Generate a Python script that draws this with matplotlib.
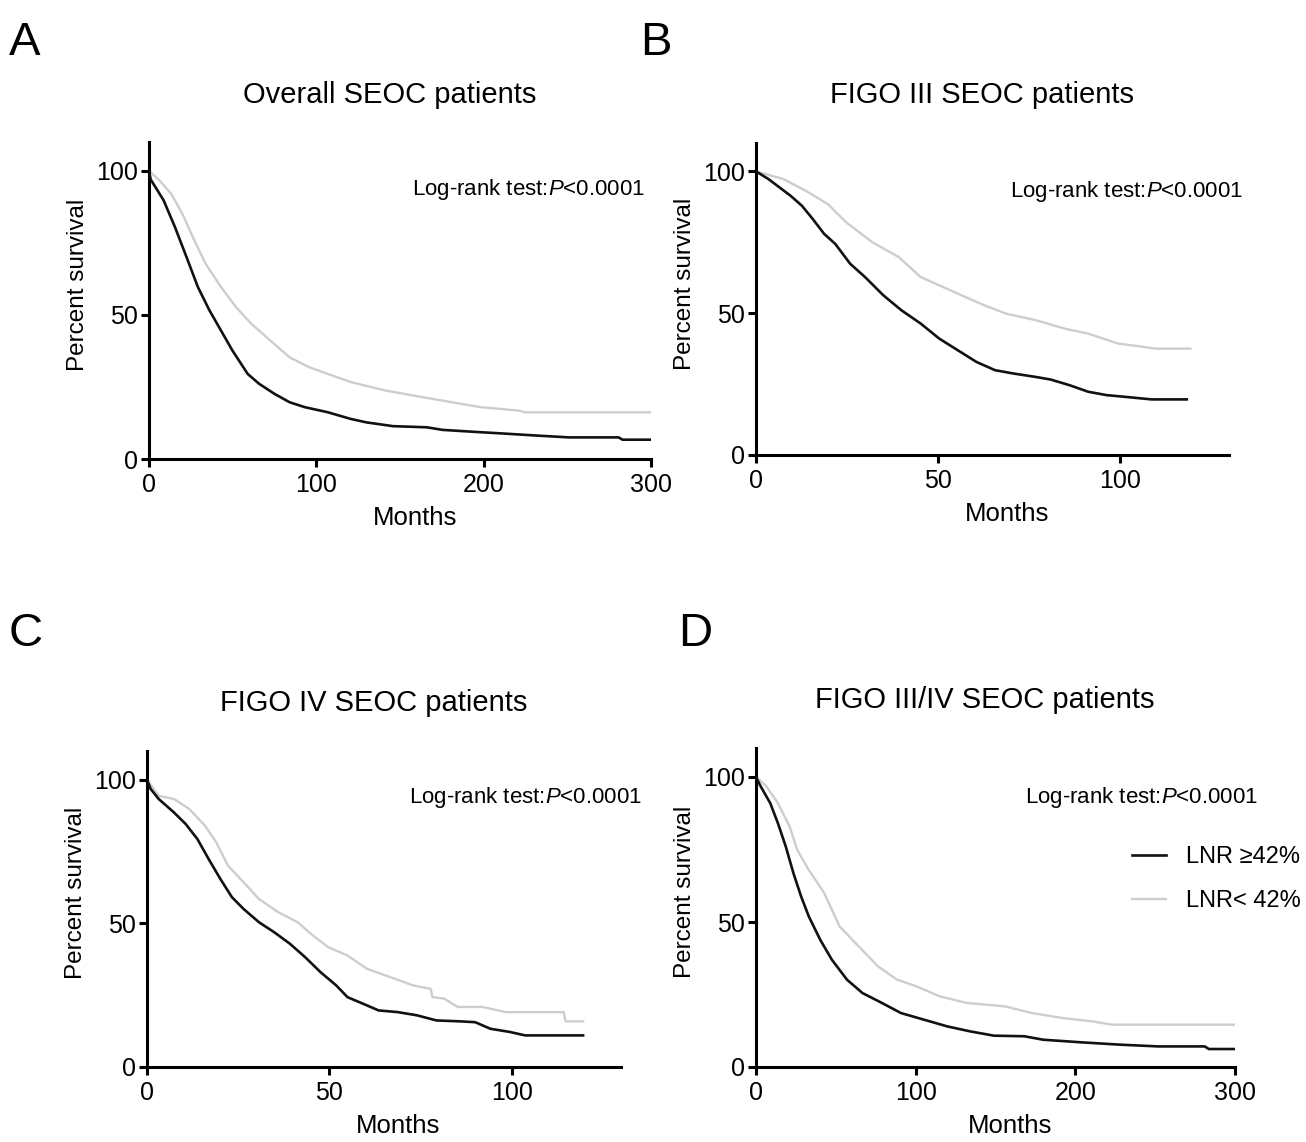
import matplotlib
matplotlib.use("Agg")
import matplotlib.pyplot as plt

plt.rcParams['font.family'] = ['Liberation Sans', 'DejaVu Sans']
plt.rcParams['mathtext.fontset'] = 'custom'
plt.rcParams['mathtext.rm'] = 'Liberation Sans'
plt.rcParams['mathtext.it'] = 'Liberation Sans:italic'

W, H = 1306, 1142

# ---- data (months, percent survival) ----
a_hi_m = [0, 1, 8.7, 15.5, 22.4, 29.2, 36.1, 43, 49.8, 59, 65.8, 75, 84, 93, 107, 120.6,
          130, 145.8, 166, 175.5, 198, 210, 232.6, 251, 280.6, 283, 300]
a_hi_s = [100, 97, 89.8, 80.5, 70.1, 59.7, 51.6, 44.6, 37.7, 29.5, 26.1, 22.6, 19.7, 18, 16.2, 13.9,
          12.7, 11.4, 11, 10.1, 9.3, 8.9, 8.1, 7.5, 7.5, 6.7, 6.7]
a_lo_m = [0, 6.4, 13.3, 20, 27, 33.8, 43, 52, 61, 72.7, 84, 95.5, 107, 120.6, 141, 164,
          187, 198, 221, 224.6, 300]
a_lo_s = [100, 96.6, 92, 85, 76, 67.8, 59.7, 52.7, 47, 41, 35.3, 31.9, 29.5, 26.7, 23.8, 21.4,
          19.1, 18, 16.8, 16.2, 16.2]

b_hi_m = [0, 3.4, 6.4, 9.5, 12.6, 15.6, 18.7, 21.8, 25.9, 30, 35, 40, 45.3, 50.4, 55.5, 60.6,
          65.7, 70.9, 77, 81, 86.2, 91.3, 96.4, 101.5, 108.7, 118.4]
b_hi_s = [100, 97.3, 94.4, 91.4, 87.9, 83.2, 78, 74.4, 67.4, 62.7, 56.3, 51, 46.3, 41, 36.9, 32.8,
          29.9, 28.7, 27.5, 26.6, 24.6, 22.3, 21.1, 20.5, 19.6, 19.6]
b_lo_m = [0, 7.5, 13.6, 19.7, 24.8, 32, 39.2, 45.3, 50.4, 56.5, 62.7, 68.8, 77, 85, 91.3,
          99.5, 106.6, 109.7, 119.4]
b_lo_s = [100, 97.3, 93.2, 88.5, 82, 75, 69.8, 62.7, 59.8, 56.3, 52.8, 49.8, 47.5, 44.5, 42.8,
          39.3, 38.1, 37.5, 37.5]

c_hi_m = [0, 1, 3.2, 7.4, 10.6, 13.8, 16.9, 20.1, 23.3, 26.5, 30.7, 34.9, 39.2, 43.4, 47.6, 51.9,
          55, 59.3, 63.5, 68.8, 74, 79.4, 85.7, 90, 94.2, 99.5, 103.7, 119.6]
c_hi_s = [100, 96.8, 93.3, 88.6, 84.6, 79.4, 72.4, 65.5, 59.1, 55, 50.4, 46.9, 42.9, 38.2, 33, 28.4,
          24.3, 22, 19.7, 19.1, 18, 16.2, 15.9, 15.6, 13.3, 12.2, 11, 11]
c_lo_m = [0, 3.2, 7.4, 11.6, 15.9, 19, 22.2, 26.5, 30.7, 36, 41.3, 45.5, 49.7, 55, 60.3, 66.7,
          73, 77.8, 78.3, 81.5, 85.2, 92, 98.4, 114.3, 114.8, 119.6]
c_lo_s = [100, 94.4, 93.3, 89.8, 84, 78.2, 70.1, 64.3, 58.5, 53.9, 50.4, 45.8, 41.7, 38.8, 34.2, 31.3,
          28.4, 27.2, 24.3, 23.8, 20.9, 20.9, 19.1, 19.1, 15.9, 15.9]

d_hi_m = [0, 2.9, 8.9, 13.7, 18.6, 23.4, 28.2, 33, 40.2, 47.5, 57, 66.7, 78.8, 90.8, 105.3, 119.8,
          134, 149, 168, 180, 204, 228, 252, 281, 283.6, 300]
d_hi_s = [100, 96.8, 91, 84.1, 76.1, 66.9, 58.9, 52, 43.9, 37, 30.1, 25.5, 22.1, 18.6, 16.3, 14,
          12.3, 10.8, 10.6, 9.4, 8.5, 7.7, 7.1, 7.1, 6.2, 6.2]
d_lo_m = [0, 6.5, 13.7, 21, 25.8, 33, 42.7, 52.3, 64.3, 76.4, 88.4, 100.5, 115, 131.8, 156,
          172.8, 192, 211, 223, 300]
d_lo_s = [100, 96.8, 91, 83, 74.9, 68, 60, 48.5, 41.6, 34.7, 30.1, 27.8, 24.4, 22.1, 20.9,
          18.6, 16.9, 15.7, 14.6, 14.6]

titles = ["Overall SEOC patients", "FIGO III SEOC patients",
          "FIGO IV SEOC patients", "FIGO III/IV SEOC patients"]
letters = ["A", "B", "C", "D"]
xmax = [300, 130, 130, 300]
xticks = [[0, 100, 200, 300], [0, 50, 100], [0, 50, 100], [0, 100, 200, 300]]
legend_labels = ["LNR \u226542%", "LNR< 42%"]

hi_curves = [(a_hi_m, a_hi_s), (b_hi_m, b_hi_s), (c_hi_m, c_hi_s), (d_hi_m, d_hi_s)]
lo_curves = [(a_lo_m, a_lo_s), (b_lo_m, b_lo_s), (c_lo_m, c_lo_s), (d_lo_m, d_lo_s)]

# layout in pixels
boxes = [(149, 651, 142, 459), (756, 1229, 143, 455), (147, 621, 751, 1067), (756, 1235, 748, 1067)]
title_y = [95, 95, 703, 700]
letter_xy = [(9, 55), (640, 55), (9, 646), (678, 646)]
logrank_xy = [(645, 190), (1243, 192), (642, 798), (1258, 798)]

fig = plt.figure(figsize=(W / 100, H / 100), dpi=100)

BLACK = "#111111"
GRAY = "#cdcdcd"

for i in range(4):
    l, r, t, b = boxes[i]
    ax = fig.add_axes([l / W, 1 - b / H, (r - l) / W, (b - t) / H])
    ax.plot(*lo_curves[i], color=GRAY, lw=1.7, label=legend_labels[1], zorder=2)
    ax.plot(*hi_curves[i], color=BLACK, lw=1.9, label=legend_labels[0], zorder=3)
    ax.set_xlim(0, xmax[i])
    ax.set_ylim(0, 110)
    ax.set_xticks(xticks[i])
    ax.set_yticks([0, 50, 100])
    for s in ["top", "right"]:
        ax.spines[s].set_visible(False)
    for s in ["left", "bottom"]:
        ax.spines[s].set_linewidth(2.2)
        ax.spines[s].set_color("black")
    ax.tick_params(direction="out", length=6, width=2.2, labelsize=18)
    ax.tick_params(axis="x", pad=4)
    ax.tick_params(axis="y", pad=2)
    ax.set_xlabel("Months", fontsize=18.5)
    ax.xaxis.set_label_coords(0.53, -47 / (b - t))
    ax.set_ylabel("Percent survival", fontsize=17.5)
    ax.yaxis.set_label_coords(-60 / (r - l), 0.55)
    fig.text(logrank_xy[i][0] / W, 1 - logrank_xy[i][1] / H, r"Log-rank test:$\mathit{P}$<0.0001",
             ha="right", va="center", fontsize=16)
    fig.text((l + r) / 2 / W - 0.008, 1 - title_y[i] / H, titles[i], ha="center", va="center",
             fontsize=21)
    fig.text(letter_xy[i][0] / W, 1 - letter_xy[i][1] / H, letters[i], ha="left",
             va="baseline", fontsize=34)
    if i == 3:
        h, lb = ax.get_legend_handles_labels()
        ax.legend([h[1], h[0]], [lb[1], lb[0]], loc="upper left",
                  bbox_to_anchor=(1132 / W, 1 - 846 / H), bbox_transform=fig.transFigure,
                  frameon=False, fontsize=17, handlelength=1.45, handletextpad=0.85,
                  labelspacing=0.95, borderpad=0, borderaxespad=0)

fig.savefig("out.png", dpi=100)
